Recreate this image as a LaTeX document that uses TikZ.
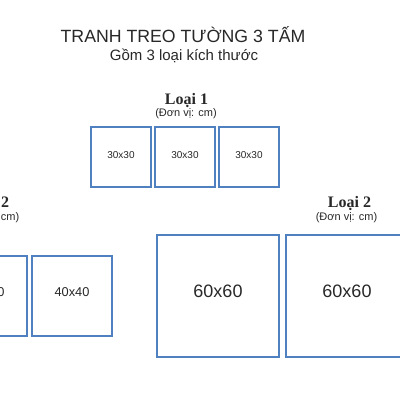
\documentclass[tikz,border=0pt]{standalone}
\usepackage{fontspec}
\setmainfont{Liberation Sans}
\newfontfamily\titleserif{Liberation Serif}
\definecolor{frameblue}{RGB}{79,129,192}
\definecolor{inkgray}{RGB}{40,40,40}
\begin{document}
\begin{tikzpicture}[x=1pt,y=-1pt,
  panel/.style={draw=frameblue,line width=1.6pt,fill=white,inner sep=0pt,outer sep=0pt},
  p30/.style={panel,minimum width=60pt,minimum height=60pt},
  p40/.style={panel,minimum width=80pt,minimum height=80pt},
  p60/.style={panel,minimum width=122pt,minimum height=122pt},
  l30/.style={text=inkgray,font=\fontsize{10}{12}\selectfont,inner sep=0pt},
  l40/.style={text=inkgray,font=\fontsize{12.8}{15}\selectfont,inner sep=0pt},
  l60/.style={text=inkgray,font=\fontsize{18}{21}\selectfont,inner sep=0pt},
  grouptitle/.style={anchor=base,text=inkgray,font=\titleserif\bfseries\fontsize{16}{19}\selectfont,inner sep=0pt},
  unit/.style={anchor=base,text=inkgray,font=\fontsize{11}{13}\selectfont,inner sep=0pt}]
\useasboundingbox[fill=white] (0,0) rectangle (400,400);
% heading
\node[anchor=base,text=inkgray,font=\fontsize{17.7}{21}\selectfont,inner sep=0pt] (title) at (183,42) {TRANH TREO TƯỜNG 3 TẤM};
\node[anchor=base,text=inkgray,font=\fontsize{15}{18}\selectfont,inner sep=0pt] (subtitle) at (184,60.7) {Gồm 3 loại kích thước};
% group 1
\node[grouptitle] (g1title) at (186.5,104) {Loại 1};
\node[unit] (g1unit) at (186,116.5) {(Đơn vị: cm)};
\node[p30] (a1) at (121,157) {};
\node[p30] (a2) at (185,157) {};
\node[p30] (a3) at (249,157) {};
\node[l30] (a1l) at ([yshift=2pt]a1.center) {30x30};
\node[l30] (a2l) at ([yshift=2pt]a2.center) {30x30};
\node[l30] (a3l) at ([yshift=2pt]a3.center) {30x30};
% group 2 (left, cut off)
\node[grouptitle] (g2title) at (-12.5,207.3) {Loại 2};
\node[unit] (g2unit) at (-11.5,220.5) {(Đơn vị: cm)};
\node[p40] (b2) at (-13,296) {};
\node[p40] (b3) at (72,296) {};
\node[l40] (b2l) at ([yshift=4.3pt]b2.center) {40x40};
\node[l40] (b3l) at ([yshift=4.3pt]b3.center) {40x40};
% group 3 (right)
\node[grouptitle] (g3title) at (349.5,207.3) {Loại 2};
\node[unit] (g3unit) at (346.5,220.5) {(Đơn vị: cm)};
\node[p60] (c1) at (218,296) {};
\node[p60] (c2) at (347,296) {};
\node[l60] (c1l) at ([yshift=5pt]c1.center) {60x60};
\node[l60] (c2l) at ([yshift=5pt]c2.center) {60x60};
\end{tikzpicture}
\end{document}
